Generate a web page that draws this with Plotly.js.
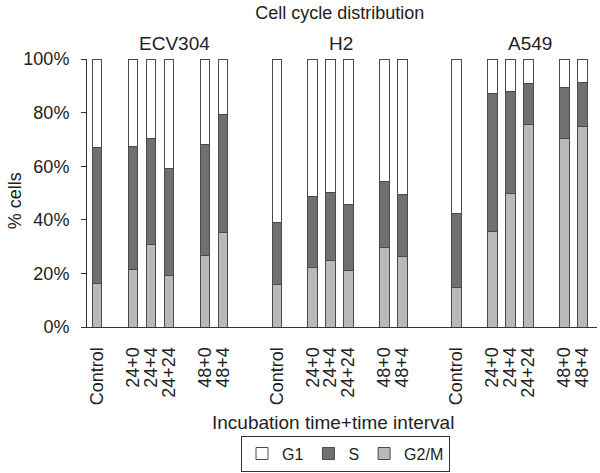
<!DOCTYPE html>
<html>
<head>
<meta charset="utf-8">
<script src="https://cdn.plot.ly/plotly-3.0.1.min.js"></script>
<style>html,body{margin:0;padding:0;background:#fff;}#chart{width:600px;height:473px;}</style>
</head>
<body>
<div id="chart"></div>
<script>
// ---- data ----
const groups = ["ECV304", "H2", "A549"];
const conditions = ["Control", "24+0", "24+4", "24+24", "48+0", "48+4"];

const ecvG2M = [16.2, 21.6, 30.6, 19.4, 26.6, 35.2];
const ecvS   = [50.6, 45.8, 39.7, 39.6, 41.6, 44.0];
const ecvG1  = [33.2, 32.6, 29.7, 41.0, 31.8, 20.8];

const h2G2M = [15.9, 22.2, 24.7, 21.2, 29.6, 26.3];
const h2S   = [23.0, 26.5, 25.5, 24.5, 24.6, 23.3];
const h2G1  = [61.1, 51.3, 49.8, 54.3, 45.8, 50.4];

const a549G2M = [14.8, 35.5, 49.7, 75.5, 70.4, 74.8];
const a549S   = [27.7, 51.5, 38.1, 15.3, 18.8, 16.4];
const a549G1  = [57.5, 13.0, 12.2,  9.2, 10.8,  8.8];

const phases = ["G2/M", "S", "G1"];

// ---- layout helpers ----
const withinGroup = [0, 2, 3, 4, 6, 7];   // slot of each condition inside a group
const groupStart = [0, 10, 20];
const xs = [], labels = [];
groups.forEach((g, gi) => conditions.forEach((c, ci) => {
  xs.push(groupStart[gi] + withinGroup[ci]);
  labels.push(c);
}));

const seriesByPhase = {
  "G2/M": [].concat(ecvG2M, h2G2M, a549G2M),
  "S": [].concat(ecvS, h2S, a549S),
  "G1": [].concat(ecvG1, h2G1, a549G1)
};
const colors = {"G2/M": "#b9b9b9", "S": "#707070", "G1": "#ffffff"};

const traces = phases.map(p => ({
  type: "bar",
  name: p,
  x: xs,
  y: seriesByPhase[p],
  width: 0.52,
  marker: {color: colors[p], line: {color: "#4a4a4a", width: 1}},
  hoverinfo: "x+y+name"
}));

const FONT = "Liberation Sans, Arial, sans-serif";
const plotL = 87, plotR = 597, plotT = 59.3, plotB = 327.7;
const pw = plotR - plotL, ph = plotB - plotT;

const groupLabelX = [4.3, 13.56, 24.07];

const layout = {
  width: 600, height: 473,
  margin: {l: plotL, r: 600 - plotR, t: plotT, b: 473 - plotB, pad: 0},
  paper_bgcolor: "#fff", plot_bgcolor: "#fff",
  barmode: "stack",
  font: {family: FONT, size: 18, color: "#222"},
  title: {text: "Cell cycle distribution", font: {family: FONT, size: 18, color: "#222"},
          x: 339.7 / 600, xanchor: "center", xref: "container",
          y: 1 - 13 / 473, yanchor: "middle", yref: "container"},
  xaxis: {
    range: [-0.54, 27.8],
    tickmode: "array", tickvals: xs, ticktext: labels,
    tickangle: -90, ticks: "", ticklabelstandoff: 12,
    showline: true, linecolor: "#333", linewidth: 1,
    showgrid: false, zeroline: false,
    tickfont: {family: FONT, size: 18, color: "#222"}
  },
  yaxis: {
    range: [0, 100], dtick: 20, ticksuffix: "%",
    ticks: "outside", ticklen: 5, tickcolor: "#333", tickwidth: 1,
    showline: true, linecolor: "#333", linewidth: 1,
    showgrid: false, zeroline: false, ticklabelstandoff: 8,
    tickfont: {family: FONT, size: 18, color: "#222"}
  },
  showlegend: true,
  legend: {
    orientation: "h", traceorder: "reversed",
    x: (345.5 - plotL) / pw, xanchor: "center",
    y: (plotB - 471) / ph, yanchor: "bottom",
    bordercolor: "#333", borderwidth: 1,
    itemwidth: 30,
    font: {family: FONT, size: 16, color: "#222"}
  },
  annotations: groups.map((g, i) => ({
    text: g, x: groupLabelX[i], xref: "x", y: 1, yref: "paper",
    yshift: 16, yanchor: "middle", xanchor: "center", showarrow: false,
    font: {family: FONT, size: 19, color: "#222"}
  })).concat([
    {text: "% cells", textangle: -90, x: (15 - plotL) / pw, xref: "paper", xanchor: "center",
     y: (plotB - 201.7) / ph, yref: "paper", yanchor: "middle", showarrow: false,
     font: {family: FONT, size: 18, color: "#222"}},
    {text: "Incubation time+time interval", x: (333 - plotL) / pw, xref: "paper", xanchor: "center",
     y: (plotB - 423) / ph, yref: "paper", yanchor: "middle", showarrow: false,
     font: {family: FONT, size: 19, color: "#222"}}
  ])
};

Plotly.newPlot("chart", traces, layout, {displayModeBar: false, staticPlot: true});
</script>
</body>
</html>
